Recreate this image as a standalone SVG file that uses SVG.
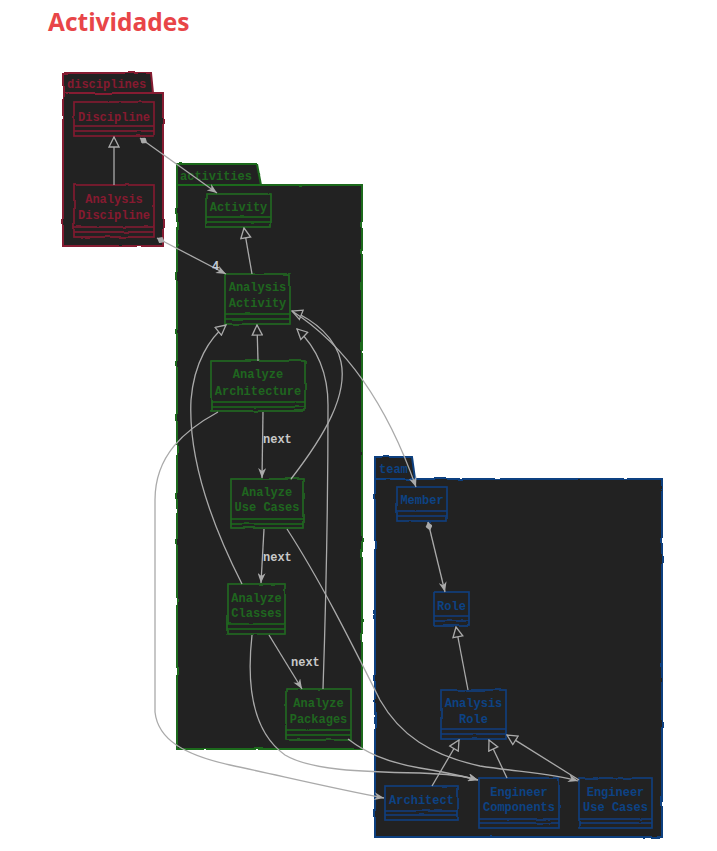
<svg xmlns="http://www.w3.org/2000/svg" width="717" height="851" viewBox="0 0 717 851">
<defs>
<style>
.title{font-family:"Open Sans","Noto Sans",sans-serif;font-weight:bold;font-size:24.5px;fill:#e84548}
.pkg{fill:#222222;stroke-width:2}
.box{fill:none;stroke-width:1.6}
.sep{stroke-width:1.4;fill:none}
.t{font-family:"Liberation Mono","DejaVu Sans Mono",monospace;font-weight:bold;font-size:12px;text-anchor:middle}
.tab{font-family:"Liberation Mono","DejaVu Sans Mono",monospace;font-weight:bold;font-size:12px}
.red{stroke:#861a30}
.redt{fill:#861a30}
.grn{stroke:#1e6b1e}
.grnt{fill:#1f661f}
.blu{stroke:#0b3f80}
.blut{fill:#0d4284}
.c{fill:none;stroke:#aaaaaa;stroke-width:1.3}
.lbl{font-family:"Liberation Mono","DejaVu Sans Mono",monospace;font-weight:bold;font-size:12px;fill:#c8c8c8}
</style>
<filter id="rough" x="-10%" y="-10%" width="120%" height="120%">
<feTurbulence type="fractalNoise" baseFrequency="0.06" numOctaves="2" seed="3" result="n"/>
<feDisplacementMap in="SourceGraphic" in2="n" scale="2.4" xChannelSelector="R" yChannelSelector="G"/>
</filter>
<marker id="tri" viewBox="0 0 12 12" refX="11" refY="6" markerWidth="12" markerHeight="12" markerUnits="userSpaceOnUse" orient="auto">
<path d="M1,1 L11,6 L1,11 Z" fill="#222222" stroke="#aaaaaa" stroke-width="1.3"/>
</marker>
<marker id="arr" viewBox="0 0 10 8" refX="10" refY="4" markerWidth="10" markerHeight="8" markerUnits="userSpaceOnUse" orient="auto">
<path d="M0,0 L10,4 L0,8 L3,4 Z" fill="#aaaaaa"/>
</marker>
<marker id="dia" viewBox="0 0 10 8" refX="0" refY="4" markerWidth="9" markerHeight="7" markerUnits="userSpaceOnUse" orient="auto">
<path d="M0,4 L5,0 L10,4 L5,8 Z" fill="#aaaaaa"/>
</marker>
</defs>
<rect width="717" height="851" fill="#ffffff"/>
<text class="title" x="48" y="31">Actividades</text>

<g id="pkg-disciplines">
<path class="pkg red" filter="url(#rough)" d="M63,73 L151,73 L153,93 L63,93 Z M63,93 L163,93 L163,246 L63,246 Z"/>
<text class="tab redt" x="67" y="88">disciplines</text>
</g>
<g id="pkg-activities">
<path class="pkg grn" filter="url(#rough)" d="M177,164 L257,164 L261,185 L177,185 Z M177,185 L362,185 L362,749 L177,749 Z"/>
<text class="tab grnt" x="180" y="180">activities</text>
</g>
<g id="pkg-team">
<path class="pkg blu" filter="url(#rough)" d="M375,457 L412,457 L415,479 L375,479 Z M375,479 L662,479 L662,837 L375,837 Z"/>
<text class="tab blut" x="379" y="473">team</text>
</g>

<g id="Discipline">
<g filter="url(#rough)"><rect class="box red" x="74" y="102" width="80" height="34"/><path class="sep red" d="M74,126 H154 M74,131 H154"/></g>
<text class="t redt" x="114" y="121">Discipline</text>
</g>
<g id="AnalysisDiscipline">
<g filter="url(#rough)"><rect class="box red" x="74" y="185" width="80" height="52"/><path class="sep red" d="M74,227 H154 M74,232 H154"/></g>
<text class="t redt" x="114" y="203">Analysis</text>
<text class="t redt" x="114" y="219">Discipline</text>
</g>

<g id="Activity">
<g filter="url(#rough)"><rect class="box grn" x="206" y="194" width="65" height="33"/><path class="sep grn" d="M206,217 H271 M206,222 H271"/></g>
<text class="t grnt" x="238.5" y="211">Activity</text>
</g>
<g id="AnalysisActivity">
<g filter="url(#rough)"><rect class="box grn" x="225" y="274" width="65" height="50"/><path class="sep grn" d="M225,314 H290 M225,319 H290"/></g>
<text class="t grnt" x="257.5" y="291">Analysis</text>
<text class="t grnt" x="257.5" y="307">Activity</text>
</g>
<g id="AnalyzeArchitecture">
<g filter="url(#rough)"><rect class="box grn" x="211" y="361" width="94" height="50"/><path class="sep grn" d="M211,402 H305 M211,407 H305"/></g>
<text class="t grnt" x="258" y="378">Analyze</text>
<text class="t grnt" x="258" y="395">Architecture</text>
</g>
<g id="AnalyzeUseCases">
<g filter="url(#rough)"><rect class="box grn" x="231" y="479" width="72" height="49"/><path class="sep grn" d="M231,519 H303 M231,524 H303"/></g>
<text class="t grnt" x="267" y="496">Analyze</text>
<text class="t grnt" x="267" y="511">Use Cases</text>
</g>
<g id="AnalyzeClasses">
<g filter="url(#rough)"><rect class="box grn" x="228" y="584" width="57" height="50"/><path class="sep grn" d="M228,624 H285 M228,629 H285"/></g>
<text class="t grnt" x="256.5" y="602">Analyze</text>
<text class="t grnt" x="256.5" y="617">Classes</text>
</g>
<g id="AnalyzePackages">
<g filter="url(#rough)"><rect class="box grn" x="286" y="689" width="65" height="51"/><path class="sep grn" d="M286,730 H351 M286,735 H351"/></g>
<text class="t grnt" x="318.5" y="707">Analyze</text>
<text class="t grnt" x="318.5" y="723">Packages</text>
</g>

<g id="Member">
<g filter="url(#rough)"><rect class="box blu" x="397" y="487" width="50" height="34"/><path class="sep blu" d="M397,511 H447 M397,516 H447"/></g>
<text class="t blut" x="422" y="504">Member</text>
</g>
<g id="Role">
<g filter="url(#rough)"><rect class="box blu" x="434" y="592" width="35" height="34"/><path class="sep blu" d="M434,616 H469 M434,621 H469"/></g>
<text class="t blut" x="451.5" y="610">Role</text>
</g>
<g id="AnalysisRole">
<g filter="url(#rough)"><rect class="box blu" x="441" y="690" width="65" height="49"/><path class="sep blu" d="M441,729 H506 M441,734 H506"/></g>
<text class="t blut" x="473.5" y="707">Analysis</text>
<text class="t blut" x="473.5" y="723">Role</text>
</g>
<g id="Architect">
<g filter="url(#rough)"><rect class="box blu" x="385" y="786" width="73" height="34"/><path class="sep blu" d="M385,811 H458 M385,815 H458"/></g>
<text class="t blut" x="421.5" y="804">Architect</text>
</g>
<g id="EngineerComponents">
<g filter="url(#rough)"><rect class="box blu" x="479" y="778" width="80" height="50"/><path class="sep blu" d="M479,819 H559 M479,823 H559"/></g>
<text class="t blut" x="519" y="796">Engineer</text>
<text class="t blut" x="519" y="811">Components</text>
</g>
<g id="EngineerUseCases">
<g filter="url(#rough)"><rect class="box blu" x="579" y="778" width="73" height="50"/><path class="sep blu" d="M579,819 H652 M579,823 H652"/></g>
<text class="t blut" x="615.5" y="796">Engineer</text>
<text class="t blut" x="615.5" y="811">Use Cases</text>
</g>

<g id="connectors">
<path class="c" marker-end="url(#tri)" d="M114,185 L114,137"/>
<path class="c" marker-start="url(#dia)" marker-end="url(#arr)" d="M140,138 L217,193"/>
<path class="c" marker-start="url(#dia)" marker-end="url(#arr)" d="M157,238 L226,274"/>
<text class="lbl" x="212" y="270" style="fill:#c0c8d6">4</text>
<path class="c" marker-end="url(#tri)" d="M252,274 L244,228"/>
<path class="c" marker-end="url(#tri)" d="M258,361 L257,325"/>
<path class="c" marker-end="url(#tri)" d="M242,584 C212,525 188,460 191,400 C194,362 210,338 226,325"/>
<path class="c" marker-end="url(#tri)" d="M291,479 C325,435 348,395 341,362 C336,338 314,320 292,311"/>
<path class="c" marker-end="url(#tri)" d="M323,689 C326,600 328,480 328,405 C328,372 316,347 297,329"/>
<path class="c" marker-end="url(#arr)" d="M292,311 Q372,362 416,487"/>
<path class="c" marker-end="url(#arr)" d="M263,412 L262,478"/>
<text class="lbl" x="263" y="443">next</text>
<path class="c" marker-end="url(#arr)" d="M264,529 L261,583"/>
<text class="lbl" x="263" y="561">next</text>
<path class="c" marker-end="url(#arr)" d="M269,635 L302,689"/>
<text class="lbl" x="291" y="666">next</text>
<path class="c" marker-end="url(#arr)" d="M218,412 C185,430 155,455 155,500 L155,712 C158,740 185,755 230,765 C290,778 340,790 384,798"/>
<path class="c" marker-end="url(#arr)" d="M287,529 C320,580 350,640 380,700 C400,735 430,755 480,766 C520,772 555,774 578,781"/>
<path class="c" marker-end="url(#arr)" d="M252,635 C247,680 250,730 285,755 C310,770 360,772 420,773 C450,774 465,776 478,780"/>
<path class="c" marker-end="url(#arr)" d="M348,739 C365,752 385,762 420,768 C445,772 462,776 478,780"/>
<path class="c" marker-start="url(#dia)" marker-end="url(#arr)" d="M428,522 L445,592"/>
<path class="c" marker-end="url(#tri)" d="M468,690 L456,627"/>
<path class="c" marker-end="url(#tri)" d="M432,786 L459,740"/>
<path class="c" marker-end="url(#tri)" d="M507,778 L489,740"/>
<path class="c" marker-end="url(#tri)" d="M579,780 L507,735"/>
</g>
</svg>
